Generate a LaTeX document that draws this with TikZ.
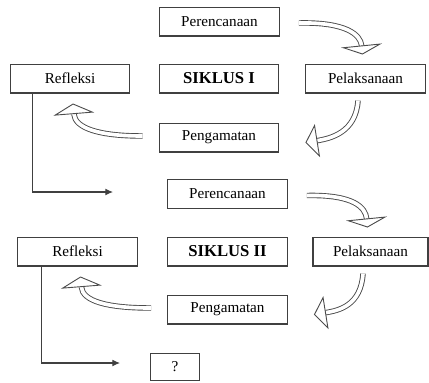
\documentclass[tikz,border=0pt]{standalone}
\usepackage{fontspec}
\setmainfont{Liberation Serif}
\usetikzlibrary{arrows.meta,calc}

\begin{document}
\begin{tikzpicture}[
    x=0.66pt, y=-0.66pt,
    box/.style={draw=black!75, line width=0.8pt, align=center, minimum height=19pt, minimum width=79pt, inner sep=1pt, font=\fontsize{10}{12}\selectfont},
    title/.style={box, font=\fontsize{11}{13}\selectfont\bfseries},
    hollow/.style={draw=black!70, line width=0.6pt, double=white, double distance=2.4pt},
    elbow/.style={draw=black!75, line width=0.7pt, -{Latex[length=5pt, width=4.5pt]}}
  ]
    \useasboundingbox (0,0) rectangle (429,382);
    % cycle I
    \node[box] (per1) at (219.5,21.5) {Perencanaan};
    \node[box] (ref1) at (70,78.5) {Refleksi};
    \node[title] (sik1) at (219,78.5) {SIKLUS I};
    \node[box] (pel1) at (365.5,78.5) {Pelaksanaan};
    \node[box] (pen1) at (219,137.5) {Pengamatan};
    % cycle II
    \node[box] (per2) at (227.5,194) {Perencanaan};
    \node[box] (ref2) at (77.5,251.5) {Refleksi};
    \node[title] (sik2) at (227.5,251.5) {SIKLUS II};
    \node[box, minimum width=76pt] (pel2) at (370.5,251.5) {Pelaksanaan};
    \node[box] (pen2) at (227.5,309.5) {Pengamatan};
    \node[box, minimum width=32pt, minimum height=18pt] (q) at (175,367) {?};
    % curved arrows
    \draw[hollow, -{Triangle[open, fill=white, width=27pt, length=6pt]}] ($(per1.east)+(19,1.5)$) .. controls +(47,-1) and +(-2,-20) .. ($(pel1.north)+(-3,-9)$);
    \draw[hollow, -{Triangle[open, fill=white, width=22pt, length=8pt]}] ($(pel1.south)+(-7.5,7)$) .. controls +(-2,32) and +(25,-4) .. ($(pen1.east)+(26,5)$);
    \draw[hollow, -{Triangle[open, fill=white, width=27pt, length=7pt]}] ($(pen1.west)+(-16,-1.5)$) .. controls +(-43,0) and +(2,25) .. ($(ref1.south)+(3,10)$);
    \draw[hollow, -{Triangle[open, fill=white, width=27pt, length=6pt]}] ($(per2.east)+(19,1.5)$) .. controls +(47,-1) and +(-2,-20) .. ($(pel2.north)+(-3,-9)$);
    \draw[hollow, -{Triangle[open, fill=white, width=22pt, length=8pt]}] ($(pel2.south)+(-7.5,7)$) .. controls +(-2,32) and +(25,-4) .. ($(pen2.east)+(26,5)$);
    \draw[hollow, -{Triangle[open, fill=white, width=27pt, length=7pt]}] ($(pen2.west)+(-16,-1.5)$) .. controls +(-43,0) and +(2,25) .. ($(ref2.south)+(3,10)$);
    % to next cycle
    \coordinate (next1) at (113,192);
    \coordinate (next2) at (120,363);
    \draw[elbow] ($(ref1.south west)+(23,0)$) |- (next1);
    \draw[elbow] ($(ref2.south west)+(24,0)$) |- (next2);
  \end{tikzpicture}
\end{document}
